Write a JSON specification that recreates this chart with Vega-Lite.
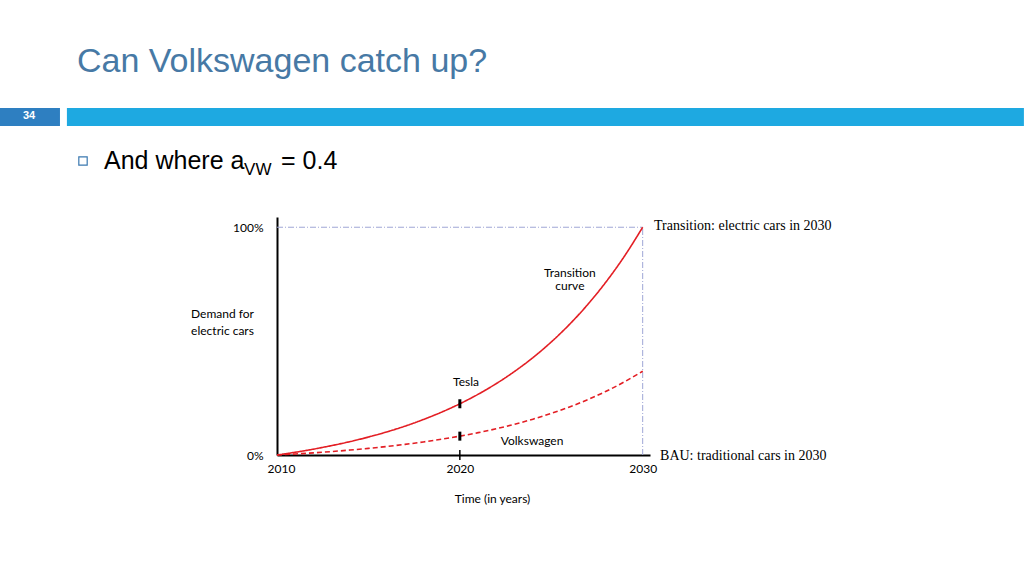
{
  "$schema": "https://vega.github.io/schema/vega-lite/v6.json",
  "width": 373,
  "height": 238,
  "autosize": {"type": "none"},
  "padding": {"left": 277, "top": 217, "right": 374, "bottom": 121},
  "background": "white",
  "config": {"view": {"stroke": null}, "font": "Lato"},
  "data": {"values": [{}]},
  "datasets": {
    "curves": [
      {"year": 2010, "series": "Transition curve", "share": 0},
      {"year": 2011, "series": "Transition curve", "share": 0.0121},
      {"year": 2012, "series": "Transition curve", "share": 0.0258},
      {"year": 2013, "series": "Transition curve", "share": 0.0414},
      {"year": 2014, "series": "Transition curve", "share": 0.0589},
      {"year": 2015, "series": "Transition curve", "share": 0.0788},
      {"year": 2016, "series": "Transition curve", "share": 0.1013},
      {"year": 2017, "series": "Transition curve", "share": 0.1267},
      {"year": 2018, "series": "Transition curve", "share": 0.1556},
      {"year": 2019, "series": "Transition curve", "share": 0.1881},
      {"year": 2020, "series": "Transition curve", "share": 0.225},
      {"year": 2021, "series": "Transition curve", "share": 0.2667},
      {"year": 2022, "series": "Transition curve", "share": 0.3139},
      {"year": 2023, "series": "Transition curve", "share": 0.3674},
      {"year": 2024, "series": "Transition curve", "share": 0.4278},
      {"year": 2025, "series": "Transition curve", "share": 0.4963},
      {"year": 2026, "series": "Transition curve", "share": 0.5737},
      {"year": 2027, "series": "Transition curve", "share": 0.6613},
      {"year": 2028, "series": "Transition curve", "share": 0.7605},
      {"year": 2029, "series": "Transition curve", "share": 0.8727},
      {"year": 2030, "series": "Transition curve", "share": 1.0},
      {"year": 2010, "series": "Volkswagen", "share": 0},
      {"year": 2011, "series": "Volkswagen", "share": 0.0045},
      {"year": 2012, "series": "Volkswagen", "share": 0.0095},
      {"year": 2013, "series": "Volkswagen", "share": 0.0152},
      {"year": 2014, "series": "Volkswagen", "share": 0.0217},
      {"year": 2015, "series": "Volkswagen", "share": 0.029},
      {"year": 2016, "series": "Volkswagen", "share": 0.0373},
      {"year": 2017, "series": "Volkswagen", "share": 0.0466},
      {"year": 2018, "series": "Volkswagen", "share": 0.0573},
      {"year": 2019, "series": "Volkswagen", "share": 0.0692},
      {"year": 2020, "series": "Volkswagen", "share": 0.0828},
      {"year": 2021, "series": "Volkswagen", "share": 0.0981},
      {"year": 2022, "series": "Volkswagen", "share": 0.1155},
      {"year": 2023, "series": "Volkswagen", "share": 0.1352},
      {"year": 2024, "series": "Volkswagen", "share": 0.1574},
      {"year": 2025, "series": "Volkswagen", "share": 0.1826},
      {"year": 2026, "series": "Volkswagen", "share": 0.2111},
      {"year": 2027, "series": "Volkswagen", "share": 0.2434},
      {"year": 2028, "series": "Volkswagen", "share": 0.2799},
      {"year": 2029, "series": "Volkswagen", "share": 0.3212},
      {"year": 2030, "series": "Volkswagen", "share": 0.368}
    ],
    "markers": [
      {"year": 2020, "name": "Tesla", "share": 0.225},
      {"year": 2020, "name": "Volkswagen", "share": 0.0828}
    ]
  },
  "layer": [
    {
      "mark": {"type": "rect", "color": "#2E7FC1", "opacity": 1},
      "encoding": {
        "x": {"datum": 1994.85, "type": "quantitative", "scale": {"domain": [2010, 2030.4], "nice": false, "zero": false}},
        "x2": {"datum": 1998.13},
        "y": {"datum": 1.5236, "type": "quantitative", "scale": {"domain": [0, 1.045], "nice": false, "zero": false}},
        "y2": {"datum": 1.4446}
      }
    },
    {
      "mark": {"type": "rect", "color": "#1EA9E1", "opacity": 1},
      "encoding": {
        "x": {"datum": 1998.51, "type": "quantitative"},
        "x2": {"datum": 2050.85},
        "y": {"datum": 1.5236, "type": "quantitative"},
        "y2": {"datum": 1.4446}
      }
    },
    {
      "mark": {"type": "text", "text": "34", "color": "white", "fontWeight": "bold", "fontSize": 11, "font": "Liberation Sans", "align": "center", "baseline": "middle"},
      "encoding": {"x": {"datum": 1996.44, "type": "quantitative"}, "y": {"datum": 1.4885, "type": "quantitative"}}
    },
    {
      "mark": {"type": "text", "text": "Can Volkswagen catch up?", "color": "#4779A5", "fontSize": 34, "font": "Liberation Sans", "align": "left", "baseline": "alphabetic"},
      "encoding": {"x": {"datum": 1999.06, "type": "quantitative"}, "y": {"datum": 1.68, "type": "quantitative"}}
    },
    {
      "mark": {"type": "point", "shape": "square", "filled": false, "stroke": "#3A78B0", "strokeWidth": 1.2, "size": 70, "opacity": 1},
      "encoding": {"x": {"datum": 1999.39, "type": "quantitative"}, "y": {"datum": 1.2909, "type": "quantitative"}}
    },
    {
      "mark": {"type": "text", "text": "And where a", "color": "black", "fontSize": 25, "font": "Liberation Sans", "align": "left", "baseline": "alphabetic"},
      "encoding": {"x": {"datum": 2000.54, "type": "quantitative"}, "y": {"datum": 1.2558, "type": "quantitative"}}
    },
    {
      "mark": {"type": "text", "text": "VW", "color": "black", "fontSize": 17, "font": "Liberation Sans", "align": "left", "baseline": "alphabetic"},
      "encoding": {"x": {"datum": 2008.2, "type": "quantitative"}, "y": {"datum": 1.2294, "type": "quantitative"}}
    },
    {
      "mark": {"type": "text", "text": "= 0.4", "color": "black", "fontSize": 25, "font": "Liberation Sans", "align": "left", "baseline": "alphabetic"},
      "encoding": {"x": {"datum": 2010.22, "type": "quantitative"}, "y": {"datum": 1.2558, "type": "quantitative"}}
    },
    {
      "mark": {"type": "rule", "color": "#9FA6D6", "strokeWidth": 1, "strokeDash": [6, 2, 1, 2]},
      "encoding": {"x": {"datum": 2010, "type": "quantitative"}, "x2": {"datum": 2030}, "y": {"datum": 1, "type": "quantitative"}}
    },
    {
      "mark": {"type": "rule", "color": "#9FA6D6", "strokeWidth": 1, "strokeDash": [6, 2, 1, 2]},
      "encoding": {"x": {"datum": 2030, "type": "quantitative"}, "y": {"datum": 0, "type": "quantitative"}, "y2": {"datum": 1}}
    },
    {
      "data": {"name": "curves"},
      "mark": {"type": "line", "interpolate": "monotone", "strokeWidth": 1.6, "color": "#E31E24"},
      "encoding": {
        "x": {
          "field": "year", "type": "quantitative",
          "axis": {
            "values": [2010, 2020, 2030], "format": "d", "ticks": false, "grid": false, "labelFlush": 1, "labelFlushOffset": 10,
            "domainColor": "black", "domainWidth": 2, "labelFont": "Lato", "labelFontSize": 12, "labelColor": "black",
            "labelPadding": 8, "title": "Time (in years)", "titleFont": "Lato", "titleFontSize": 12, "titleFontWeight": "normal",
            "titleColor": "black", "titleX": 215, "titleY": 43, "titleBaseline": "middle", "titleAlign": "center"
          }
        },
        "y": {
          "field": "share", "type": "quantitative",
          "axis": {
            "values": [0, 1], "format": ".0%", "ticks": false, "grid": false,
            "domainColor": "black", "domainWidth": 2, "labelFont": "Lato", "labelFontSize": 12, "labelColor": "black",
            "labelPadding": 14,
            "title": ["Demand for", "electric cars"], "titleAngle": 0, "titleFont": "Lato", "titleFontSize": 12,
            "titleFontWeight": "normal", "titleColor": "black", "titleX": -55, "titleY": 96, "titleBaseline": "middle",
            "titleAlign": "center", "titleLineHeight": 17
          }
        },
        "strokeDash": {
          "field": "series", "type": "nominal",
          "scale": {"domain": ["Transition curve", "Volkswagen"], "range": [[1, 0], [5, 3]]},
          "legend": null
        }
      }
    },
    {
      "data": {"name": "markers"},
      "mark": {"type": "tick", "orient": "vertical", "color": "black", "size": 9, "thickness": 3, "opacity": 1},
      "encoding": {"x": {"field": "year", "type": "quantitative"}, "y": {"field": "share", "type": "quantitative"}}
    },
    {
      "mark": {"type": "tick", "orient": "vertical", "color": "black", "size": 10, "thickness": 1.5, "opacity": 1},
      "encoding": {"x": {"datum": 2020, "type": "quantitative"}, "y": {"datum": 0, "type": "quantitative"}}
    },
    {
      "mark": {"type": "text", "text": "Tesla", "color": "black", "fontSize": 12, "font": "Lato", "align": "center", "baseline": "middle"},
      "encoding": {"x": {"datum": 2020.34, "type": "quantitative"}, "y": {"datum": 0.3205, "type": "quantitative"}}
    },
    {
      "mark": {"type": "text", "text": "Volkswagen", "color": "black", "fontSize": 12, "font": "Lato", "align": "center", "baseline": "middle"},
      "encoding": {"x": {"datum": 2023.95, "type": "quantitative"}, "y": {"datum": 0.0615, "type": "quantitative"}}
    },
    {
      "mark": {"type": "text", "text": ["Transition", "curve"], "lineHeight": 13, "color": "black", "fontSize": 12, "font": "Lato", "align": "center", "baseline": "middle"},
      "encoding": {"x": {"datum": 2026.02, "type": "quantitative"}, "y": {"datum": 0.799, "type": "quantitative"}}
    },
    {
      "mark": {"type": "text", "text": "Transition: electric cars in 2030", "color": "black", "fontSize": 14, "font": "Liberation Serif", "align": "left", "baseline": "middle"},
      "encoding": {"x": {"datum": 2030.62, "type": "quantitative"}, "y": {"datum": 1.0055, "type": "quantitative"}}
    },
    {
      "mark": {"type": "text", "text": "BAU: traditional cars in 2030", "color": "black", "fontSize": 14, "font": "Liberation Serif", "align": "left", "baseline": "middle"},
      "encoding": {"x": {"datum": 2030.95, "type": "quantitative"}, "y": {"datum": -0.0044, "type": "quantitative"}}
    }
  ]
}
